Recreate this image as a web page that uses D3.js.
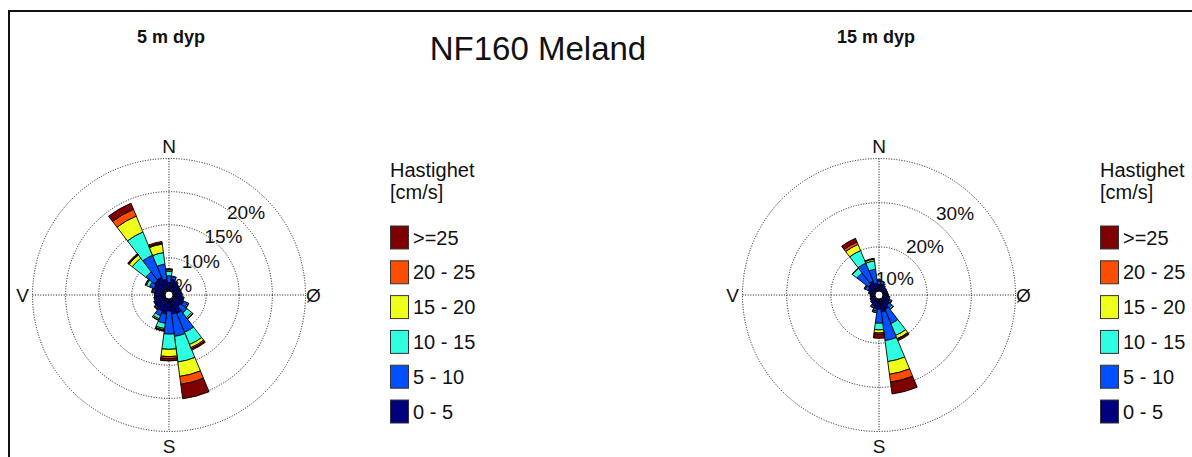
<!DOCTYPE html>
<html lang="no">
<head>
  <meta charset="UTF-8" />
  <title>NF160 Meland</title>
  <script src="https://d3js.org/d3.v7.min.js"></script>
  <style>
    body {
      margin: 0;
      background: #fff;
      font-family: Arial, 'Liberation Sans', sans-serif;
    }
    text { fill: #111; }
  </style>
</head>
<body>
  <div id="chart"></div>

  <script>
    // retning (grader) og hastighetsklasser
    const directions = [0, 15, 30, 45, 60, 75, 90, 105, 120, 135, 150, 165,
                        180, 195, 210, 225, 240, 255, 270, 285, 300, 315, 330, 345];
    const speedBins = ["0 - 5", "5 - 10", "10 - 15", "15 - 20", "20 - 25", ">=25"];
    const binColors = ["#00007f", "#0050ff", "#2effe0", "#eeff1a", "#ff4d00", "#7f0000"];

    // 5 m dyp, prosent per retning
    const dyp5_0_5   = [1.3, 1.8, 1.5, 1.3, 1.2, 1.2, 1.3, 1.4, 1.8, 1.6, 2.4, 2.3, 1.8, 2.3, 2.0, 1.9, 1.8, 1.6, 1.5, 1.6, 1.9, 2.2, 2.3, 1.8];
    const dyp5_5_10  = [1.0, 0.4, 0.2, 0.1, 0.1, 0.1, 0.1, 0.2, 0.6, 1.2, 3.1, 3.4, 3.5, 1.4, 0.8, 0.2, 0.1, 0.1, 0.1, 0.3, 0.7, 1.6, 3.6, 2.3];
    const dyp5_10_15 = [0.7, 0.1, 0, 0, 0, 0, 0, 0.1, 0.2, 0.9, 2.0, 3.9, 2.3, 0.8, 0.5, 0.1, 0, 0, 0, 0.1, 0.5, 2.6, 3.8, 1.75];
    const dyp5_15_20 = [0.2, 0, 0, 0, 0, 0, 0, 0, 0.05, 0.2, 0.5, 2.2, 1.1, 0.2, 0.2, 0.05, 0, 0, 0, 0.05, 0.15, 0.6, 2.6, 1.3];
    const dyp5_20_25 = [0.1, 0, 0, 0, 0, 0, 0, 0, 0, 0.1, 0.2, 1.2, 0.3, 0.15, 0.05, 0, 0, 0, 0, 0, 0.05, 0.1, 1.1, 0.15];
    const dyp5_25    = [0.05, 0, 0, 0, 0, 0, 0, 0, 0, 0, 0.2, 2.2, 0.35, 0.05, 0, 0, 0, 0, 0, 0, 0, 0.15, 1.0, 0.25];

    // 15 m dyp
    const dyp15_0_5   = [1.5, 1.6, 1.3, 1.1, 1.0, 1.0, 1.1, 1.3, 1.7, 2.0, 2.6, 3.0, 2.3, 2.2, 1.8, 1.4, 1.2, 1.1, 1.1, 1.3, 1.7, 2.2, 2.5, 1.8];
    const dyp15_5_10  = [0.8, 0.6, 0.2, 0.1, 0.1, 0.1, 0.1, 0.3, 0.5, 0.8, 3.5, 6.5, 3.2, 0.6, 0.4, 0.1, 0.1, 0, 0, 0.2, 0.8, 3.2, 4.4, 3.2];
    const dyp15_10_15 = [0.2, 0.1, 0, 0, 0, 0, 0, 0, 0.1, 0.4, 2.9, 4.8, 1.5, 0.3, 0.1, 0, 0, 0, 0, 0, 0.2, 1.3, 3.1, 1.9];
    const dyp15_15_20 = [0.05, 0, 0, 0, 0, 0, 0, 0, 0, 0.05, 0.8, 2.9, 0.7, 0.05, 0, 0, 0, 0, 0, 0, 0.05, 0.1, 1.5, 0.4];
    const dyp15_20_25 = [0, 0, 0, 0, 0, 0, 0, 0, 0, 0, 0.2, 1.8, 0.3, 0, 0, 0, 0, 0, 0, 0, 0, 0, 0.6, 0.1];
    const dyp15_25    = [0, 0, 0, 0, 0, 0, 0, 0, 0, 0, 0.3, 2.7, 0.9, 0, 0, 0, 0, 0, 0, 0, 0, 0, 0.9, 0.05];

    const ticks5 = [5, 10, 15, 20];
    const ticks15 = [10, 20, 30];

    const W = 1192, H = 457;

    function toRows(cols) {
      return directions.map((dir, i) => {
        const row = { dir: dir };
        speedBins.forEach((b, j) => row[b] = cols[j][i]);
        return row;
      });
    }

    const rows5 = toRows([dyp5_0_5, dyp5_5_10, dyp5_10_15, dyp5_15_20, dyp5_20_25, dyp5_25]);
    const rows15 = toRows([dyp15_0_5, dyp15_5_10, dyp15_10_15, dyp15_15_20, dyp15_20_25, dyp15_25]);

    const svg = d3.select("#chart").append("svg")
      .attr("width", W)
      .attr("height", H);

    // ramme
    svg.append("rect")
      .attr("x", 9).attr("y", 11)
      .attr("width", W + 20).attr("height", H + 20)
      .attr("fill", "none")
      .attr("stroke", "#111")
      .attr("stroke-width", 2);

    svg.append("text")
      .attr("x", 538).attr("y", 60)
      .attr("text-anchor", "middle")
      .style("font-size", "33px")
      .text("NF160 Meland");

    function drawRose(cx, cy, rows, maxPct, ticks, tickOff) {
      const R = 136.5;
      const r = d3.scaleLinear().domain([0, maxPct]).range([4, R]);
      const g = svg.append("g").attr("transform", `translate(${cx},${cy})`);
      const half = Math.PI / 24;
      const rad = d => d * Math.PI / 180;

      // rutenett
      g.selectAll("circle.grid")
        .data(ticks)
        .enter().append("circle")
        .attr("class", "grid")
        .attr("r", d => r(d))
        .attr("fill", "none")
        .attr("stroke", "#111")
        .attr("stroke-width", 1)
        .attr("stroke-dasharray", "1,1.6");

      g.append("line").attr("x1", -R).attr("x2", R).attr("y1", 0).attr("y2", 0)
        .attr("stroke", "#111").attr("stroke-dasharray", "1,1.6");
      g.append("line").attr("y1", -R).attr("y2", R).attr("x1", 0).attr("x2", 0)
        .attr("stroke", "#111").attr("stroke-dasharray", "1,1.6");

      const a45 = rad(43);
      g.selectAll("text.pct")
        .data(ticks)
        .enter().append("text")
        .attr("class", "pct")
        .attr("x", d => Math.sin(a45) * (r(d) - tickOff))
        .attr("y", d => -Math.cos(a45) * (r(d) - tickOff))
        .attr("text-anchor", "middle")
        .attr("dy", "0.36em")
        .style("font-size", "19px")
        .text(d => d + "%");

      // søyler
      const arc = d3.arc();
      const series = d3.stack().keys(speedBins)(rows);
      series.forEach((s, i) => {
        g.selectAll(null)
          .data(s.filter(d => d[1] - d[0] > 0))
          .enter().append("path")
          .attr("d", d => arc({
            innerRadius: r(d[0]),
            outerRadius: r(d[1]),
            startAngle: rad(d.data.dir) - half,
            endAngle: rad(d.data.dir) + half
          }))
          .attr("fill", binColors[i])
          .attr("stroke", "#000")
          .attr("stroke-width", 0.9)
          .attr("stroke-linejoin", "round");
      });

      g.append("circle").attr("r", 4)
        .attr("fill", "#fff").attr("stroke", "#000").attr("stroke-width", 1);

      const compass = [
        { t: "N", x: 0, y: -R - 12 },
        { t: "S", x: 0, y: R + 15 },
        { t: "V", x: -R - 10, y: 0 },
        { t: "\u00d8", x: R + 8, y: 0 }
      ];
      g.selectAll("text.cmp")
        .data(compass)
        .enter().append("text")
        .attr("class", "cmp")
        .attr("x", d => d.x).attr("y", d => d.y)
        .attr("text-anchor", "middle")
        .attr("dy", "0.36em")
        .style("font-size", "19px")
        .text(d => d.t);
    }

    function drawLegend(x) {
      const g = svg.append("g").attr("transform", `translate(${x},0)`);
      g.append("text").attr("x", 0).attr("y", 177)
        .style("font-size", "20px").text("Hastighet");
      g.append("text").attr("x", 0).attr("y", 199)
        .style("font-size", "20px").text("[cm/s]");

      const items = speedBins.map((b, i) => ({ label: b, color: binColors[i] })).reverse();
      const y = d3.scaleBand().domain(items.map(d => d.label)).range([226, 423]).paddingInner(0.34).paddingOuter(0);

      const it = g.selectAll("g.item").data(items).enter().append("g").attr("class", "item");
      it.append("rect")
        .attr("x", 0.5)
        .attr("y", d => y(d.label))
        .attr("width", 18)
        .attr("height", y.bandwidth())
        .attr("fill", d => d.color)
        .attr("stroke", "#333")
        .attr("stroke-width", 1);
      it.append("text")
        .attr("x", 23)
        .attr("y", d => y(d.label) + y.bandwidth() / 2)
        .attr("dy", "0.36em")
        .style("font-size", "20px")
        .text(d => d.label);
    }

    svg.append("text").attr("x", 137).attr("y", 43)
      .style("font-size", "18px").style("font-weight", "bold").text("5 m dyp");
    svg.append("text").attr("x", 837).attr("y", 43)
      .style("font-size", "18px").style("font-weight", "bold").text("15 m dyp");

    drawRose(169, 295, rows5, 20, ticks5, 23.5);
    drawRose(879, 295, rows15, 30, ticks15, 25);
    drawLegend(390);
    drawLegend(1100);
  </script>
</body>
</html>
